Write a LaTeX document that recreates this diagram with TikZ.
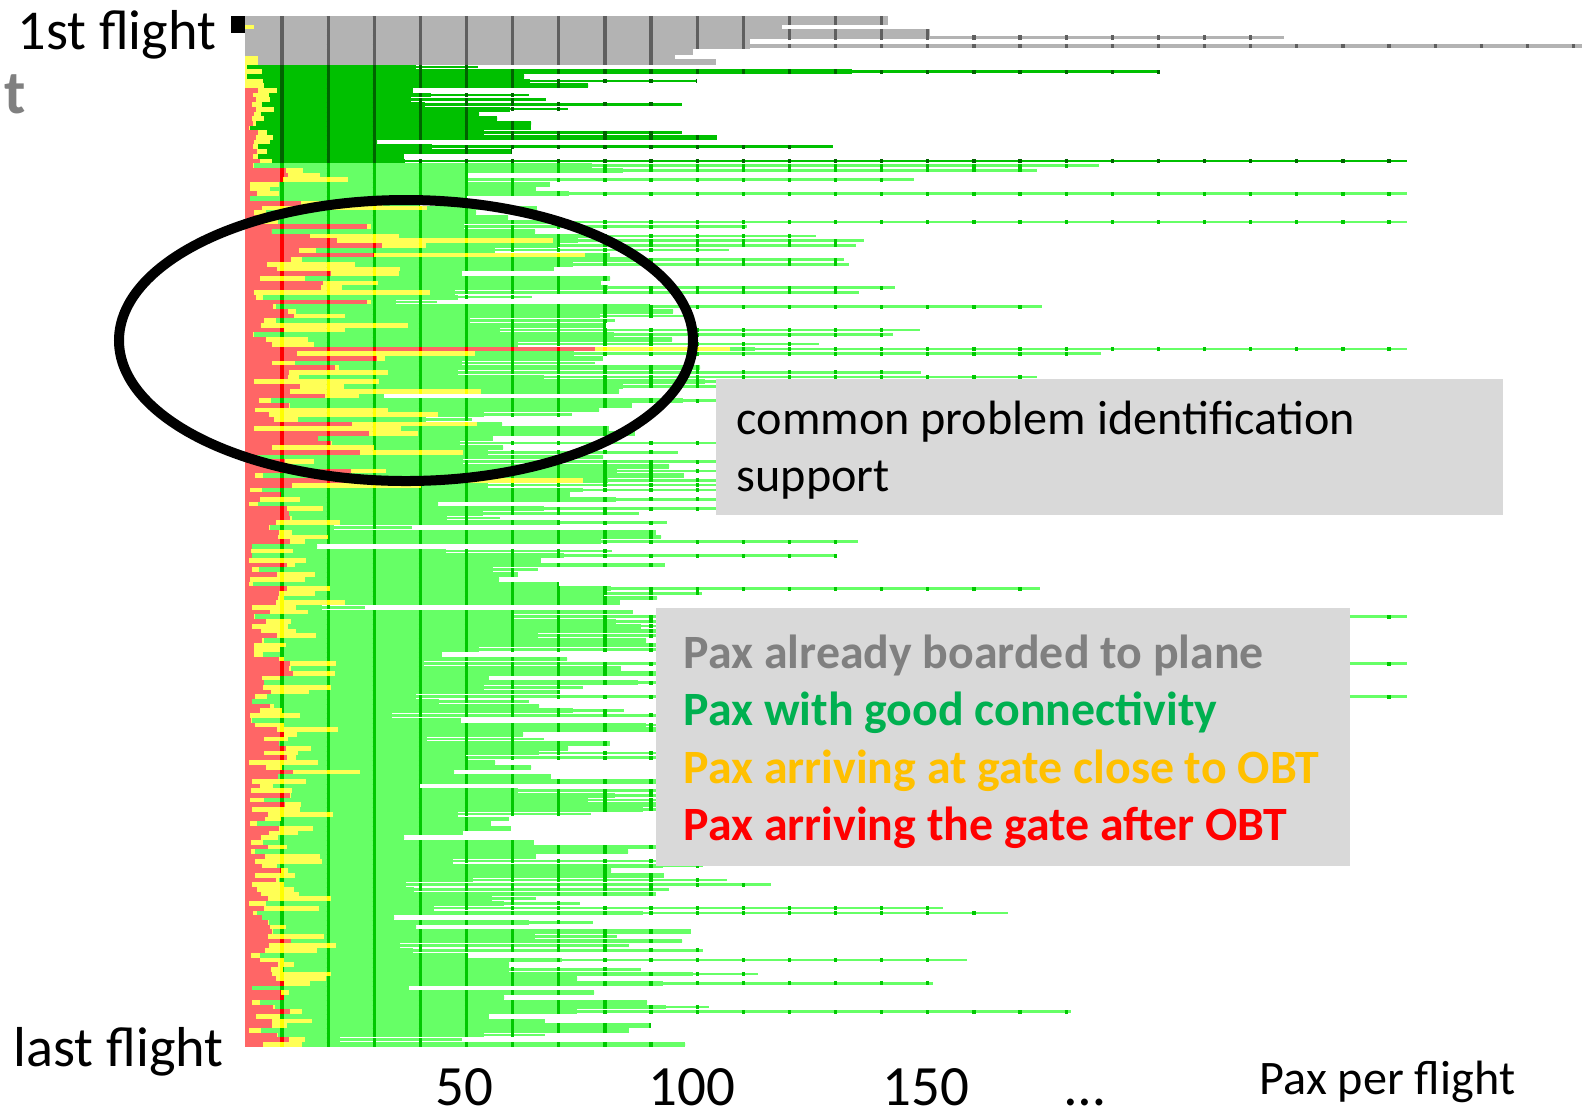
\documentclass[tikz,border=0pt]{standalone}
\usepackage{fontspec}
\setmainfont{Carlito}
\definecolor{paxgray}{RGB}{179,179,179}
\definecolor{paxgraytick}{RGB}{95,95,95}
\definecolor{paxdark}{RGB}{0,192,0}
\definecolor{paxdarktick}{RGB}{0,100,0}
\definecolor{paxgreen}{RGB}{102,255,102}
\definecolor{paxgreentick}{RGB}{0,200,0}
\definecolor{paxred}{RGB}{255,102,102}
\definecolor{paxredtick}{RGB}{255,0,0}
\definecolor{paxyellow}{RGB}{255,255,85}
\definecolor{paxyellowtick}{RGB}{255,255,0}
\definecolor{boxgray}{RGB}{217,217,217}
\definecolor{txtgray}{RGB}{128,128,128}
\definecolor{txtgreen}{RGB}{0,176,80}
\definecolor{txtgold}{RGB}{255,192,0}
\definecolor{txtred}{RGB}{255,0,0}

\begin{document}
\begin{tikzpicture}[x=0.01cm,y=-0.01cm,
	tickline/.style={line width=#1,dash pattern=on 0.033cm off 0.428cm,dash phase=0.1075cm},
	sidelabel/.style={anchor=base west,inner sep=0pt,font=\fontsize{16pt}{19pt}\selectfont},
	axislabel/.style={anchor=base,inner sep=0pt,font=\fontsize{16.2pt}{19pt}\selectfont},
	boxtext/.style={anchor=base west,inner sep=0pt,font=\fontsize{13.7pt}{16pt}\selectfont},
	legendline/.style={anchor=base west,inner sep=0pt,font=\fontsize{13.6pt}{16pt}\selectfont\bfseries}]
	\useasboundingbox[fill=white] (0,0) rectangle (1582,1117);
	
	% one row per flight
	\pgfmathsetseed{4711}
	\foreach \i in {0,...,208}{
		\pgfmathsetmacro{\yt}{64.5+4.7*\i}
		\pgfmathsetmacro{\ym}{\yt+2.35}
		\pgfmathsetmacro{\yb}{\yt+4.7}
		\pgfmathtruncatemacro{\za}{\i<21}
		\pgfmathtruncatemacro{\ze}{and(\yt>197,\yt<485)}
		\pgfmathsetmacro{\ra}{rnd}
		\pgfmathsetmacro{\rb}{rnd}
		\pgfmathsetmacro{\rc}{rnd}
		\pgfmathsetmacro{\rd}{rnd}
		\pgfmathsetmacro{\re}{rnd}
		\pgfmathsetmacro{\rf}{rnd}
		\pgfmathsetmacro{\r}{ifthenelse(\i==60,595,245+ifthenelse(\za==1,ifthenelse(\i<5,0,3+12*\ra),ifthenelse(\ze==1,8+130*\ra*\ra,4+45*\ra^1.5)))}
		\pgfmathsetmacro{\yl}{ifthenelse(\i==60,730,\r+ifthenelse(\za==1,20*\rb,ifthenelse(\ze==1,220*\rb^2,70*\rb^2)))}
		\pgfmathsetmacro{\g}{max(\yl+25,ifthenelse(\za==1,ifthenelse(\rc<0.2,555+330*\rd,373+170*\rd),ifthenelse(\rc<0.08,303+100*\rd,393+312*\rd)))}
		\pgfmathsetmacro{\L}{ifthenelse(\i==60,1407,ifthenelse(\re<0.55,\g,ifthenelse(\rf>0.93,1407,min(1407,\g+40+560*\rf^1.8))))}
		\ifnum\za=1
			\colorlet{barc}{paxdark}\colorlet{tickc}{paxdarktick}
		\else
			\colorlet{barc}{paxgreen}\colorlet{tickc}{paxgreentick}
		\fi
		\fill[paxred] (245,\yt) rectangle (\r,\yb);
		\fill[paxyellow] (\r,\yt) rectangle (\yl,\yb);
		\fill[barc] (\yl,\yt) rectangle (\g,\yb);
		\fill[barc] (\g,\ym-1.3) rectangle (\L,\ym+1.3);
		\draw[tickc,tickline=0.04cm] (245,\ym) -- (\L,\ym);
		\draw[tickc,tickline=0.047cm] (245,\ym) -- (\g,\ym);
		\draw[paxyellowtick,tickline=0.047cm] (245,\ym) -- (\yl,\ym);
		\draw[paxredtick,tickline=0.047cm] (245,\ym) -- (\r,\ym);
	}
	
	% flights already boarded
	\fill[paxgray] (245,16) rectangle (675,64.5);
	\fill[paxgray] (675,16) rectangle (750,49);
	\fill[paxgray] (750,16) rectangle (888,25);
	\fill[paxgray] (750,25) rectangle (782,29);
	\fill[paxgray] (750,29) rectangle (930,39);
	\fill[paxgray] (930,35.5) rectangle (1284,39);
	\fill[paxgray] (750,44) rectangle (1582,48);
	\fill[paxgray] (675,49) rectangle (693,55);
	\fill[paxgray] (675,59) rectangle (716,64.5);
	\fill[paxyellow] (245,25) rectangle (254,29);
	\fill[paxyellow] (245,56) rectangle (258,64.5);
	\draw[paxgraytick,tickline=0.485cm] (245,40.25) -- (675,40.25);
	\draw[paxgraytick,tickline=0.33cm] (245,32.5) -- (750,32.5);
	\draw[paxgraytick,tickline=0.09cm] (245,20.5) -- (888,20.5);
	\draw[paxgraytick,tickline=0.10cm] (245,34) -- (930,34);
	\draw[paxgraytick,tickline=0.045cm] (245,37.25) -- (1284,37.25);
	\draw[paxgraytick,tickline=0.045cm] (245,46) -- (1582,46);
	\draw[paxgraytick,tickline=0.06cm] (245,52) -- (693,52);
	\fill (231,16) rectangle (245,33);
	
	\draw[line width=0.1cm] (406,340.5) ellipse [x radius=287,y radius=140.5];
	
	\fill[boxgray] (716,379) rectangle (1503,515);
	\node[boxtext] (prob1) at (736,434) {common problem identification};
	\node[boxtext] (prob2) at (736,491) {support};
	
	\fill[boxgray] (656,608) rectangle (1350,866);
	\node[legendline,text=txtgray] (boarded) at (683,668) {Pax already boarded to plane};
	\node[legendline,text=txtgreen] (good) at (683,725) {Pax with good connectivity};
	\node[legendline,text=txtgold] (close) at (683,783) {Pax arriving at gate close to OBT};
	\node[legendline,text=txtred] (after) at (683,840) {Pax arriving the gate after OBT};
	
	\node[sidelabel] (first) at (17,49) {1st flight};
	\node[sidelabel] (last) at (13,1066) {last flight};
	\node[anchor=base west,inner sep=0pt,text=txtgray,font=\fontsize{17.5pt}{20pt}\selectfont\bfseries] (time) at (4,113) {t};
	
	\node[axislabel] (x50) at (464,1105) {50};
	\node[axislabel] (x100) at (692,1105) {100};
	\node[axislabel] (x150) at (926,1105) {150};
	\node[axislabel] (xdots) at (1085,1105) {\dots};
	\node[boxtext] (xname) at (1259,1094) {Pax per flight};
\end{tikzpicture}
\end{document}
